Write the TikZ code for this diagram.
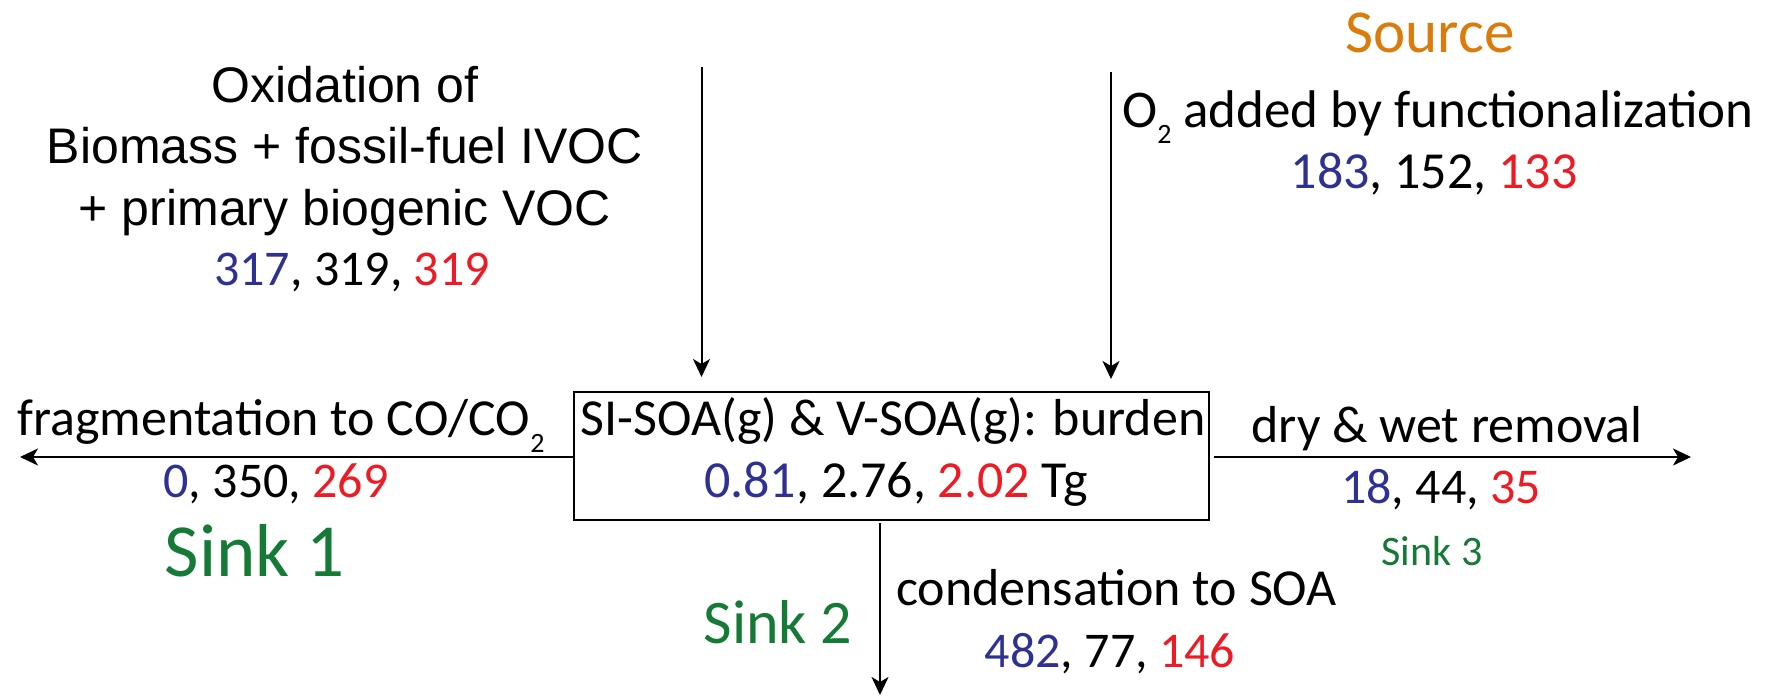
\documentclass[tikz,border=0pt]{standalone}
\usepackage{fontspec}
\setmainfont{Carlito}
\newfontfamily\arialf{Liberation Sans}
\usetikzlibrary{arrows.meta}
\definecolor{nblue}{HTML}{2E3192}
\definecolor{nred}{HTML}{ED1C24}
\definecolor{ngreen}{HTML}{157A36}
\definecolor{norange}{HTML}{DA7B0A}
\newcommand{\blu}[1]{\textcolor{nblue}{#1}}
\newcommand{\rd}[1]{\textcolor{nred}{#1}}
\newcommand{\fs}[1]{\fontsize{#1pt}{#1pt}\selectfont}
\begin{document}
\begin{tikzpicture}[x=1pt,y=-1pt,
  lbl/.style={anchor=base,inner sep=0pt,outer sep=0pt},
  arr/.style={line width=2pt,-{Stealth[length=18pt,width=17pt,inset=5pt]}}]
\useasboundingbox (0,0) rectangle (1771,696);
% top-left source text
\node[lbl,font=\arialf\fs{50}] (ox1) at (345,102) {Oxidation of};
\node[lbl,font=\arialf\fs{50}] (ox2) at (345,163) {Biomass + fossil-fuel IVOC};
\node[lbl,font=\arialf\fs{50}] (ox3) at (345,225) {+ primary biogenic VOC};
\node[lbl,font=\fs{50}] (ox4) at (352,285) {\blu{317}, 319, \rd{319}};
% top-right source text
\node[lbl,font=\fs{61},text=norange] (src) at (1430,52) {Source};
\node[lbl,font=\fs{53}] (o2) at (1438,127) {O\raisebox{-16pt}{\fs{28}2} added by functionalization};
\node[lbl,font=\fs{52}] (o2n) at (1434,188) {\blu{183}, 152, \rd{133}};
% box
\node[draw,line width=2pt,minimum width=635pt,minimum height=128pt,inner sep=0pt] (box) at (891.5,455.5) {};
\node[lbl,font=\fs{52}] (bx1) at (893,435) {SI-SOA(g) \& V-SOA(g): burden};
\node[lbl,font=\fs{52}] (bx2) at (896,497) {\blu{0.81}, 2.76, \rd{2.02} Tg};
% sink 1
\node[lbl,font=\fs{52}] (fr) at (281,435) {fragmentation to CO/CO\raisebox{-17pt}{\fs{28}2}};
\node[lbl,font=\fs{50}] (frn) at (276,497) {\blu{0}, 350, \rd{269}};
\node[lbl,font=\fs{75},text=ngreen] (s1) at (255,576) {Sink 1};
% sink 3
\node[lbl,font=\fs{52}] (dw) at (1447,442) {dry \& wet removal};
\node[lbl,font=\fs{50}] (dwn) at (1441,503) {\blu{18}, 44, \rd{35}};
\node[lbl,font=\fs{42},text=ngreen] (s3) at (1432,565) {Sink 3};
% sink 2
\node[lbl,font=\fs{62},text=ngreen] (s2) at (778,643) {Sink 2};
\node[lbl,font=\fs{52}] (cd) at (1116.5,605) {condensation to SOA};
\node[lbl,font=\fs{50}] (cdn) at (1110,667) {\blu{482}, 77, \rd{146}};
% arrows
\coordinate (a1s) at (701.5,67);
\coordinate (a1e) at (701.5,377);
\coordinate (a2s) at (1111,72);
\coordinate (a2e) at (1111,379);
\coordinate (l1s) at (574,457);
\coordinate (l1e) at (20,457);
\coordinate (r1s) at (1214,457);
\coordinate (r1e) at (1691,457);
\coordinate (d1s) at (880,523);
\coordinate (d1e) at (880,695);
\draw[arr] (a1s) -- (a1e);
\draw[arr] (a2s) -- (a2e);
\draw[arr] (l1s) -- (l1e);
\draw[arr] (r1s) -- (r1e);
\draw[arr] (d1s) -- (d1e);
\end{tikzpicture}
\end{document}
